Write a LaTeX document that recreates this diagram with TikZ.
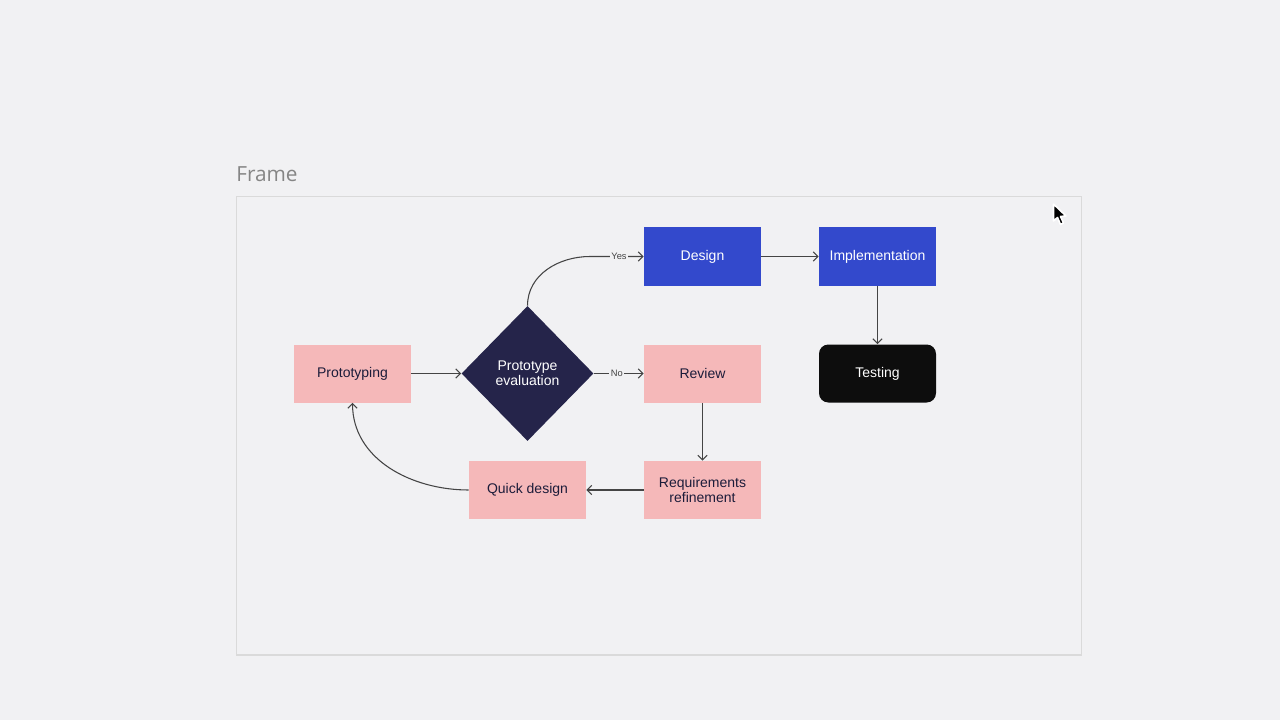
\documentclass[tikz,border=0pt]{standalone}
\usepackage{fontspec}
\setmainfont{Liberation Sans}
\newfontfamily\framefont{Open Sans}
\usetikzlibrary{shapes.geometric,arrows.meta}
\definecolor{bgc}{HTML}{F1F1F3}
\definecolor{framec}{HTML}{DADADA}
\definecolor{framet}{HTML}{858585}
\definecolor{pinkc}{HTML}{F5B8B9}
\definecolor{bluec}{HTML}{3349CC}
\definecolor{navyc}{HTML}{25244A}
\definecolor{blackc}{HTML}{0D0D0D}
\definecolor{txtc}{HTML}{1C1C3A}
\definecolor{linec}{HTML}{444444}
\tikzset{
  box/.style={rectangle, minimum width=87.75pt, minimum height=43.5pt, inner sep=1pt, align=center, font=\fontsize{10.5}{11.5}\selectfont},
  pinkbox/.style={box, fill=pinkc, text=txtc},
  bluebox/.style={box, fill=bluec, text=white},
  blackbox/.style={box, fill=blackc, text=white, rounded corners=7pt},
  decision/.style={diamond, fill=navyc, text=white, minimum width=99pt, minimum height=101.25pt, inner sep=0pt, align=center, font=\fontsize{10.5}{11.5}\selectfont},
  conn/.style={draw=linec, line width=0.8pt, -{Straight Barb[length=3.5pt,width=7pt]}},
  lbl/.style={fill=bgc, inner sep=1.2pt, text=linec, font=\fontsize{7}{8}\selectfont}
}
\begin{document}
\begin{tikzpicture}[x=0.75pt,y=-0.75pt]
\useasboundingbox[fill=bgc] (0,0) rectangle (1280,720);
% frame
\draw[framec, line width=1.1pt] (236.5,196.5) rectangle (1081.5,655);
\node[anchor=base west, inner sep=0pt, text=framet, font=\framefont\fontsize{15.6}{18}\selectfont] (ftitle) at (236,181.5) {Frame};
% nodes
\node[pinkbox] (proto) at (352.5,373.5) {Prototyping};
\node[decision] (eval) at (527.5,373.5) {Prototype\\evaluation};
\node[bluebox] (design) at (702.5,256.5) {Design};
\node[bluebox] (impl) at (877.5,256.5) {Implementation};
\node[pinkbox] (review) at (702.5,373.5) {Review};
\node[blackbox] (test) at (877.5,373.5) {Testing};
\node[pinkbox] (quick) at (527.5,490) {Quick design};
\node[pinkbox] (req) at (702.5,490) {Requirements\\refinement};
% connectors
\coordinate (yb) at (590,256.5);
\draw[conn] (eval.north) to[out=90,in=180] (yb) -- node[lbl, pos=0.54] {Yes} (design.west);
\draw[conn] (eval.east) -- node[lbl, pos=0.46] {No} (review.west);
\draw[conn] (proto.east) -- (eval.west);
\draw[conn] (design.east) -- (impl.west);
\draw[conn] (impl.south) -- (test.north);
\draw[conn] (review.south) -- (req.north);
\draw[conn] (req.west) -- (quick.east);
\draw[conn] (quick.west) to[out=180,in=-90] (proto.south);
% cursor
\draw[white, line width=1.2pt, fill=black, line join=round]
  (1053.5,204) -- (1053.5,221) -- (1057.5,217.5) -- (1060.5,224.5) -- (1063.5,223) -- (1060.5,216.5) -- (1066,216) -- cycle;
\end{tikzpicture}
\end{document}
